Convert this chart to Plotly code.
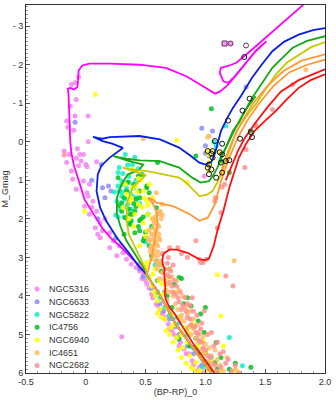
import plotly.graph_objects as go

# ---------------- cluster members: (BP-RP)_0, M_G ----------------
NGC5316 = [(-0.12,-1.49),(-0.09,-1.53),(-0.06,-1.68),(-0.08,-1.1),(-0.13,-0.92),(-0.09,-0.67),(0.02,-0.67),
           (-0.16,-0.54),(-0.15,-0.38),(-0.1,-0.3),(0.02,0.0),(-0.18,0.24),(-0.07,0.18),(-0.14,0.33),(-0.05,0.33),
           (-0.02,0.33),(-0.08,0.43),(-0.04,0.5),(-0.16,0.54),(0.0,0.59),(0.09,0.52),(-0.12,0.76),(-0.06,0.62),
           (0.01,0.65),(-0.11,0.97),(-0.02,1.02),(0.03,1.1),(-0.08,1.23),(0.01,1.32),(0.02,1.41),(0.06,1.54),
           (-0.01,1.67),(0.09,1.8),(0.03,1.88),(0.12,2.1),(0.08,2.23),(0.14,2.31),(0.2,2.36),(0.12,2.49),(0.23,2.57),
           (0.2,2.75),(0.28,2.7),(0.26,2.96),(0.31,2.88),(0.34,3.05),(0.38,3.18),(0.42,3.26),(0.44,3.18),(0.48,3.44),
           (0.51,3.69),(0.55,3.95),(0.59,4.21),(0.64,4.47),(0.69,4.73),(0.76,5.08),(0.82,5.38),(0.89,5.68),(0.95,5.85),
           (0.3,5.06),(0.45,3.35),(0.53,3.8),(0.62,4.35),(0.72,4.9),(0.79,5.2),(0.86,5.5),(0.93,5.95),(0.16,2.0),
           (0.05,1.7),(0.1,2.4),(0.99,0.89),(1.16,-2.55),(1.21,-2.55),
           (0.47,3.55),(0.5,3.6),(0.56,4.05),(0.6,4.25),(0.66,4.6),(0.7,4.85),(0.74,5.0),(0.78,5.3),(0.84,5.5),
           (0.9,5.8),(0.98,6.0),(0.57,4.0),(0.67,4.55)]
NGC6633 = [(-0.09,-0.51),(0.13,0.59),(0.14,1.19),(0.19,1.15),(0.21,1.28),(0.16,1.45),(1.06,-0.28),(1.34,-1.42),
           (1.03,0.37),(1.0,0.1),(0.05,1.0),(0.1,2.0),(0.25,2.5),(0.45,3.3),(0.55,3.8),(0.62,4.2),(0.7,4.6),
           (0.78,5.0),(0.9,5.5),(0.97,5.8),(0.58,3.95),(0.75,4.8),(0.97,-0.35),(1.0,0.3),(0.48,3.5),(0.65,4.4),
           (0.85,5.3)]
NGC5822 = [(0.33,0.33),(0.41,0.4),(0.39,0.59),(0.28,0.67),(0.3,1.02),(0.27,1.15),(0.31,1.1),(0.34,1.19),
           (0.28,1.28),(0.37,1.32),(0.3,1.41),(0.33,1.49),(0.39,1.41),(0.26,1.54),(0.35,1.62),(0.29,1.75),
           (0.4,1.2),(0.42,1.0),(0.36,0.9),(0.25,1.9),(0.32,1.95),(0.38,1.75),(0.45,1.6),(1.17,-0.41),(1.09,0.11),
           (1.07,0.0),(0.52,3.5),(0.6,3.9),(0.66,4.3),(0.78,4.7),(0.85,5.0),(0.93,5.4),(1.0,5.7),(1.2,5.08),
           (1.31,5.81),(0.7,4.5),(0.95,5.2),(1.1,5.9),(0.58,3.2),(0.5,2.6),(0.31,0.82),(0.24,1.3),
           (0.27,0.8),(0.35,0.6),(0.44,0.7),(0.3,1.3),(0.36,1.05),(0.42,1.45),(0.33,1.7),(0.27,1.95),(0.36,2.1),
           (0.62,4.05),(0.73,4.6),(0.9,5.35),(0.98,5.85),(1.05,5.6)]
IC4756 = [(0.3,1.8),(0.33,1.97),(0.41,1.8),(0.45,1.45),(0.51,1.19),(0.53,1.32),(0.44,0.89),(0.6,0.54),
          (0.3,1.58),(0.34,1.28),(0.42,1.49),(0.45,1.28),(0.51,1.15),(0.39,1.88),(0.46,2.01),(0.52,1.88),
          (0.37,2.14),(0.59,1.71),(0.27,0.93),(0.92,0.37),(0.45,2.31),(0.48,2.57),(0.37,1.88),(0.45,2.05),
          (0.41,2.36),(0.49,2.49),(0.59,3.09),(0.62,3.18),(1.05,-0.86),(1.375,-0.28),(1.2,0.8),(1.13,0.5),
          (0.88,4.26),(0.96,4.47),(0.99,4.95),(0.78,5.12),(1.0,5.47),(1.08,5.73),(1.1,5.9),(0.78,3.52),
          (1.38,5.85),(1.09,5.21),(0.7,3.3),(0.74,3.7),(0.68,4.0),(0.82,4.2),(0.9,4.8),(0.95,5.5),(1.04,5.9),
          (0.87,5.3),(0.35,1.05),(0.4,1.6),(0.55,2.2),(0.32,2.4),
          (0.6,3.6),(0.66,3.9),(0.72,4.3),(0.77,4.55),(0.84,4.85),(0.92,5.1),(0.98,5.65),(1.02,5.75),(1.13,5.6),
          (1.2,5.9),(1.25,5.75),(0.85,4.05),(0.8,3.55),(0.63,3.35),(0.94,4.65),(1.0,4.3),(0.28,1.65),(0.36,1.75),
          (0.48,1.95),(0.44,2.2),(0.5,2.35),(0.53,2.7),(0.55,2.95),(0.4,1.1),(0.47,0.85),(0.32,1.45),(0.38,2.05),
          (0.42,1.68)]
NGC6940 = [(0.08,-1.23),(0.76,-0.04),(0.34,1.36),(0.39,1.19),(0.37,1.54),(0.44,1.62),(0.48,1.28),(0.51,1.54),
           (0.53,1.1),(0.56,1.45),(0.31,1.71),(0.41,1.88),(0.52,1.88),(0.39,0.72),(-0.01,1.8),(0.51,2.31),
           (1.02,0.24),(1.05,0.24),(1.03,0.33),(1.06,0.41),(1.03,0.54),(1.03,0.63),(1.03,0.76),(1.14,0.8),
           (1.12,0.28),(0.85,1.06),(0.6,4.13),(0.62,4.34),(0.66,4.6),(0.71,4.82),(0.76,5.08),(0.81,5.34),
           (0.87,5.55),(0.92,5.73),(0.95,5.94),(0.78,4.56),(0.89,4.73),(0.98,5.16),(1.03,5.85),(1.1,3.45),
           (1.13,4.52),(0.51,3.13),(0.56,3.44),(0.64,3.69),(0.82,4.82),(1.26,5.94),(0.57,3.9),(0.68,4.3),
           (0.74,4.75),(0.85,5.2),(0.9,5.9),(0.46,1.0),(0.36,2.0),(0.48,2.1),(0.43,1.3),
           (0.5,3.25),(0.53,3.55),(0.55,3.75),(0.58,4.0),(0.6,4.45),(0.63,4.55),(0.67,4.9),(0.7,5.0),(0.73,5.2),
           (0.77,5.4),(0.8,5.6),(0.84,5.75),(0.88,5.85),(0.93,6.0),(0.97,5.6),(1.0,5.45),(1.05,5.7),(1.12,5.95),
           (0.86,4.95),(0.72,4.45),(0.65,3.95),(0.61,3.6),(0.8,5.0),(0.94,5.3),(1.15,5.3),(0.58,3.3),(0.69,3.55),
           (0.75,3.9),(0.33,1.1),(0.42,1.15),(0.47,1.7),(0.4,2.2),(0.5,2.45),(0.45,2.7),(0.55,2.0),(0.38,1.45),
           (0.44,0.95),(0.52,1.65),(0.49,1.45)]
IC4651 = [(0.6,1.88),(0.62,1.8),(0.58,2.05),(0.56,2.23),(0.55,2.4),(0.53,2.57),(0.54,2.75),(0.56,2.92),
          (0.59,3.09),(0.63,2.0),(0.6,2.15),(0.59,2.3),(0.57,2.45),(0.58,2.6),(0.57,2.8),(0.6,2.95),(0.62,3.1),
          (0.52,2.5),(0.55,2.7),(0.53,2.3),(0.64,1.9),(0.61,2.4),(0.59,2.65),(0.6,2.85),(0.55,3.05),(0.63,3.2),
          (0.59,1.32),(0.56,1.54),(0.64,1.62),(0.62,1.84),(1.02,-0.12),(1.84,-1.87),(1.08,1.45),(1.03,-0.15),
          (1.24,3.09),(0.6,3.3),(0.66,3.6),(0.7,3.9),(0.75,4.2),(0.8,4.5),(0.86,4.8),(0.92,5.1),(0.97,5.4),
          (1.02,5.7),(1.08,5.95),(0.72,3.5),(0.78,3.85),(0.83,4.3),(0.9,4.6),(0.95,4.95),(1.0,5.25),(1.05,5.55),
          (1.12,5.8),(0.68,4.1),(0.88,5.0),(1.18,5.6),(1.25,5.9),(0.48,-0.08),
          (0.64,3.4),(0.68,3.7),(0.73,4.0),(0.77,4.35),(0.82,4.65),(0.85,4.45),(0.9,4.85),(0.94,5.2),(0.99,5.5),
          (1.04,5.85),(0.7,3.3),(0.76,3.6),(0.81,4.0),(0.87,4.4),(0.93,4.75),(0.98,5.05),(1.03,5.35),(1.1,5.65),
          (1.15,5.95),(0.62,3.55),(0.67,3.85),(0.79,4.6),(0.84,4.9),(1.0,5.95),(1.08,5.4),(0.57,2.1),(0.61,2.5),
          (0.55,2.55),(0.58,2.35),(0.6,2.7),(0.57,2.95),(0.61,2.2),(0.56,2.0),(0.54,2.85),(0.6,3.2),(0.62,2.55),
          (0.58,1.95)]
NGC2682 = [(-0.18,0.34),(0.7,2.75),(0.77,2.75),(0.95,3.05),(1.01,3.05),(0.98,3.13),(1.1,2.23),(1.13,1.84),
           (1.09,1.45),(1.16,1.1),(1.08,1.54),(0.92,2.57),(1.14,1.17),(1.42,-0.41),(1.42,-0.45),(1.56,-0.84),
           (1.73,-1.49),(1.34,0.2),(1.33,0.67),(0.66,3.3),(0.7,3.5),(0.72,3.75),(0.75,3.95),(0.78,4.15),(0.8,4.35),
           (0.85,4.55),(0.88,4.75),(0.92,4.95),(0.95,5.15),(0.98,5.35),(1.02,5.55),(1.06,5.75),(1.1,5.95),
           (0.74,3.6),(0.83,4.05),(0.9,4.4),(0.97,4.7),(1.02,5.0),(1.07,5.3),(1.12,5.5),(1.17,5.75),(1.22,5.95),
           (0.68,3.45),(0.79,3.9),(0.87,4.25),(0.99,4.39),(1.17,3.48),(1.23,3.74),(0.96,3.13),(0.73,3.2),
           (0.69,3.0),(0.8,2.9),(0.85,3.0),(0.64,2.9),
           (0.7,3.65),(0.73,3.9),(0.77,4.05),(0.81,4.25),(0.84,4.4),(0.87,4.6),(0.91,4.8),(0.94,5.0),(0.97,5.2),
           (1.0,5.4),(1.04,5.6),(1.08,5.8),(1.13,5.85),(1.19,5.65),(1.25,5.8),(1.28,6.0),(1.1,5.2),(1.05,4.95),
           (0.93,4.5),(0.85,4.2),(0.76,3.75),(0.71,3.35),(0.68,3.15),(1.15,5.45),(0.96,4.85),(0.89,4.05)]

# giants flagged with black rings
RINGS = [(1.325,-2.2),(1.37,-1.12),(1.31,-0.81),(1.19,-0.55),(1.38,-0.25),(1.39,-0.12),(1.29,-0.08),
         (1.08,-0.02),(1.14,0.05),(1.02,0.24),(1.06,0.24),(1.05,0.31),(1.12,0.27),(1.14,0.33),(1.06,0.41),
         (1.17,0.5),(1.2,0.48),(1.13,0.54),(1.03,0.59),(1.05,0.72),(1.03,0.84),(1.14,0.8),(1.09,0.93),(1.02,0.67)]
PURPLE_RINGS = [(1.21,-2.55),(1.34,-2.5)]
PURPLE_SQUARES = [(1.16,-2.55)]

# ---------------- isochrones ----------------
LOW_MS = [(1.05,6.0),(0.99,5.75),(0.93,5.5),(0.87,5.25),(0.81,4.99),(0.75,4.72),(0.7,4.43),(0.65,4.15),
          (0.6,3.87),(0.55,3.65),(0.51,3.45)]
ISO_MAGENTA = LOW_MS + [(0.47,3.3),(0.42,3.13),(0.38,3.0),(0.3,2.75),(0.21,2.5),(0.14,2.25),(0.09,2.0),
          (0.04,1.75),(-0.01,1.5),(-0.06,1.0),(-0.1,0.6),(-0.12,0.3),(-0.13,0.0),(-0.135,-0.5),(-0.14,-1.0),
          (-0.145,-1.25),(-0.15,-1.38),(-0.13,-1.4),(-0.1,-1.36),(-0.07,-1.42),(-0.065,-1.6),(-0.06,-1.85),
          (-0.03,-1.98),(0.03,-2.03),(0.2,-2.03),(0.45,-2.0),(0.67,-1.92),(0.84,-1.7),(0.98,-1.44),(1.08,-1.25),
          (1.12,-1.3),(1.18,-1.45),(1.25,-1.7),(1.34,-2.05),(1.42,-2.35),(1.51,-2.61),(1.42,-2.36),(1.33,-2.02),
          (1.24,-1.68),(1.19,-1.53),(1.15,-1.57),(1.12,-1.79),(1.13,-1.92),(1.2,-1.98),(1.26,-2.05),(1.4,-2.42),
          (1.55,-2.82),(1.7,-3.22),(1.82,-3.56)]
ISO_BLUE = LOW_MS + [(0.48,3.35),(0.45,3.26),(0.37,2.92),(0.26,2.49),(0.17,2.05),(0.12,1.71),(0.09,1.28),
          (0.1,0.85),(0.13,0.62),(0.2,0.41),(0.31,0.16),(0.22,0.05),(0.14,-0.02),(0.08,-0.1),(0.06,-0.13),
          (0.1,-0.1),(0.14,-0.08),(0.2,-0.12),(0.34,-0.14),(0.45,-0.15),(0.62,-0.06),(0.78,0.15),(0.87,0.35),
          (0.95,0.54),(1.0,0.59),(1.05,0.52),(1.08,0.3),(1.1,0.05),(1.13,-0.28),(1.18,-0.6),(1.23,-0.88),
          (1.3,-1.2),(1.39,-1.66),(1.47,-2.0),(1.56,-2.35),(1.66,-2.6),(1.78,-2.78),(1.9,-2.9),(2.0,-2.95)]
ISO_GREEN = LOW_MS + [(0.5,3.35),(0.42,2.95),(0.34,2.57),(0.29,2.2),(0.26,1.88),(0.26,1.45),(0.3,1.1),
          (0.35,0.85),(0.45,0.72),(0.48,0.59),(0.4,0.53),(0.34,0.48),(0.28,0.42),(0.23,0.37),(0.27,0.4),
          (0.34,0.44),(0.45,0.48),(0.62,0.5),(0.78,0.67),(0.89,0.93),(0.96,1.06),(1.03,1.02),(1.07,0.85),
          (1.1,0.67),(1.17,0.16),(1.23,-0.28),(1.28,-0.5),(1.39,-1.14),(1.48,-1.55),(1.56,-1.92),(1.65,-2.2),
          (1.73,-2.44),(1.85,-2.62),(2.0,-2.74)]
ISO_GREEN_AGB = [(1.12,0.45),(1.18,0.1),(1.25,-0.35),(1.33,-0.8),(1.42,-1.18)]
ISO_OLIVE = LOW_MS + [(0.5,3.3),(0.42,2.8),(0.36,2.4),(0.34,2.05),(0.35,1.54),(0.39,1.19),(0.5,0.87),
          (0.44,0.8),(0.39,0.75),(0.31,0.67),(0.36,0.7),(0.45,0.74),(0.51,0.76),(0.64,0.84),(0.78,0.93),
          (0.84,1.06),(0.9,1.25),(0.95,1.41),(1.01,1.38),(1.06,1.28),(1.1,1.05),(1.14,0.76),(1.2,0.24),
          (1.26,-0.28),(1.34,-0.65),(1.42,-0.97),(1.5,-1.35),(1.59,-1.75),(1.68,-2.05),(1.78,-2.26),
          (1.88,-2.45),(2.0,-2.59)]
ISO_ORANGE = LOW_MS + [(0.52,3.35),(0.55,3.0),(0.58,2.5),(0.6,2.1),(0.59,1.8),(0.56,1.6),(0.52,1.45),
          (0.56,1.5),(0.59,1.58),(0.73,1.67),(0.87,1.88),(0.95,2.05),(1.02,1.97),(1.08,1.62),(1.13,1.02),
          (1.2,0.41),(1.27,-0.1),(1.35,-0.55),(1.45,-1.0),(1.57,-1.45),(1.7,-1.8),(1.85,-2.0),(2.0,-2.13)]
ISO_ORANGE_AGB = [(1.12,0.9),(1.17,0.4),(1.23,-0.05),(1.3,-0.5),(1.4,-1.0),(1.52,-1.45),(1.65,-1.83),
          (1.8,-2.1),(2.0,-2.27)]
ISO_RED = [(1.075,6.0),(1.02,5.75),(0.96,5.5),(0.9,5.25),(0.85,5.0),(0.79,4.72),(0.74,4.45),(0.7,4.3),
          (0.67,4.1),(0.66,3.95),(0.665,3.8),(0.66,3.6),(0.655,3.4),(0.66,3.3),(0.645,3.2),(0.64,3.1),
          (0.645,2.95),(0.66,2.88),(0.7,2.8),(0.76,2.8),(0.85,2.88),(0.95,3.05),(1.0,3.07),(1.03,3.03),
          (1.07,2.7),(1.1,2.31),(1.15,1.8),(1.2,1.19),(1.24,0.8),(1.28,0.41),(1.34,0.05),(1.41,-0.28),
          (1.5,-0.55),(1.59,-0.8),(1.68,-1.1),(1.78,-1.4),(1.88,-1.6),(2.0,-1.75)]
ISO_RED_AGB = [(1.17,1.0),(1.22,0.6),(1.27,0.25),(1.33,-0.1),(1.42,-0.5),(1.52,-0.9),(1.63,-1.3),
          (1.78,-1.6),(2.0,-1.88)]

CLUSTERS = [("NGC5316", NGC5316, "#f284f2"), ("NGC6633", NGC6633, "#8c8cf5"),
            ("NGC5822", NGC5822, "#10ecc4"), ("IC4756", IC4756, "#00c21e"),
            ("NGC6940", NGC6940, "#ffff00"), ("IC4651", IC4651, "#ffbb66"),
            ("NGC2682", NGC2682, "#ff9090")]
ISOCHRONES = [(ISO_MAGENTA, "#ff00ff"), (ISO_BLUE, "#0a1ee6"), (ISO_GREEN, "#14aa14"),
              (ISO_GREEN_AGB, "#14aa14"), (ISO_OLIVE, "#c8c800"), (ISO_ORANGE, "#ff9933"),
              (ISO_ORANGE_AGB, "#ff9933"), (ISO_RED, "#ff1010"), (ISO_RED_AGB, "#ff1010")]

X_TICKS = [-0.5, 0, 0.5, 1.0, 1.5, 2.0]
X_TICKTEXT = ["-0.5", "0", "0.5", "1.0", "1.5", "2.0"]
Y_TICKS = [-3, -2, -1, 0, 1, 2, 3, 4, 5, 6]
Y_TICKTEXT = ["- 3", "- 2", "- 1", "0", "1", "2", "3", "4", "5", "6"]

# legend placement (paper fractions)
LEG_DOT_X, LEG_TEXT_X, LEG_TOP_Y, LEG_STEP = 0.037, 0.07, 0.228, 0.0346

fig = go.Figure()
for name, pts, col in CLUSTERS:
    fig.add_trace(go.Scatter(x=[p[0] for p in pts], y=[p[1] for p in pts], mode="markers", name=name,
                             showlegend=False,
                             marker=dict(color=col, size=5, opacity=0.85, line=dict(width=0))))
for pts, col in ISOCHRONES:
    fig.add_trace(go.Scatter(x=[p[0] for p in pts], y=[p[1] for p in pts], mode="lines",
                             line=dict(color=col, width=1.8), showlegend=False, hoverinfo="skip"))
fig.add_trace(go.Scatter(x=[p[0] for p in RINGS], y=[p[1] for p in RINGS], mode="markers", showlegend=False,
                         marker=dict(symbol="circle-open", size=5, color="#111111", line=dict(width=1))))
fig.add_trace(go.Scatter(x=[p[0] for p in PURPLE_RINGS], y=[p[1] for p in PURPLE_RINGS], mode="markers",
                         showlegend=False, marker=dict(symbol="circle-open", size=5, color="#6a2a5a", line=dict(width=1))))
fig.add_trace(go.Scatter(x=[p[0] for p in PURPLE_SQUARES], y=[p[1] for p in PURPLE_SQUARES], mode="markers",
                         showlegend=False, marker=dict(symbol="square-open", size=5, color="#6a2a5a", line=dict(width=1))))

# compact legend (dots + labels) inside lower-left of the plot area
for i, (name, pts, col) in enumerate(CLUSTERS):
    yy = LEG_TOP_Y - i * LEG_STEP
    fig.add_shape(type="circle", xref="paper", yref="paper", xsizemode="pixel", ysizemode="pixel",
                  xanchor=LEG_DOT_X, yanchor=yy, x0=-2.5, x1=2.5, y0=-2.5, y1=2.5,
                  fillcolor=col, opacity=0.85, line=dict(width=0))
    fig.add_annotation(x=LEG_TEXT_X, y=yy, xref="paper", yref="paper", text=name, showarrow=False,
                       xanchor="left", yanchor="middle", font=dict(size=9, color="#333333"))

axis_common = dict(showline=True, linecolor="#333333", linewidth=1, mirror=True, ticks="inside",
                   ticklen=4, tickcolor="#555555", showgrid=False, zeroline=False, automargin=False,
                   tickfont=dict(size=9, color="#333333"),
                   minor=dict(dtick=0.1, ticks="inside", ticklen=2, tickcolor="#999999", showgrid=False))
fig.update_xaxes(range=[-0.5, 2.0], tickmode="array", tickvals=X_TICKS, ticktext=X_TICKTEXT,
                 title=dict(text="(BP-RP)_0", font=dict(size=9, color="#333333"), standoff=2), **axis_common)
fig.update_yaxes(range=[6, -3.55], tickmode="array", tickvals=Y_TICKS, ticktext=Y_TICKTEXT,
                 title=dict(text="M_Gmag", font=dict(size=9, color="#333333"), standoff=2), **axis_common)
fig.update_layout(width=336, height=400, margin=dict(l=26, r=11, t=5, b=27),
                  paper_bgcolor="white", plot_bgcolor="white",
                  font=dict(family="Liberation Sans, Arial, sans-serif", size=9, color="#333333"),
                  showlegend=False)
fig.write_html("out.html", config={"displayModeBar": False},
               post_script="document.body.style.margin='0px';")
